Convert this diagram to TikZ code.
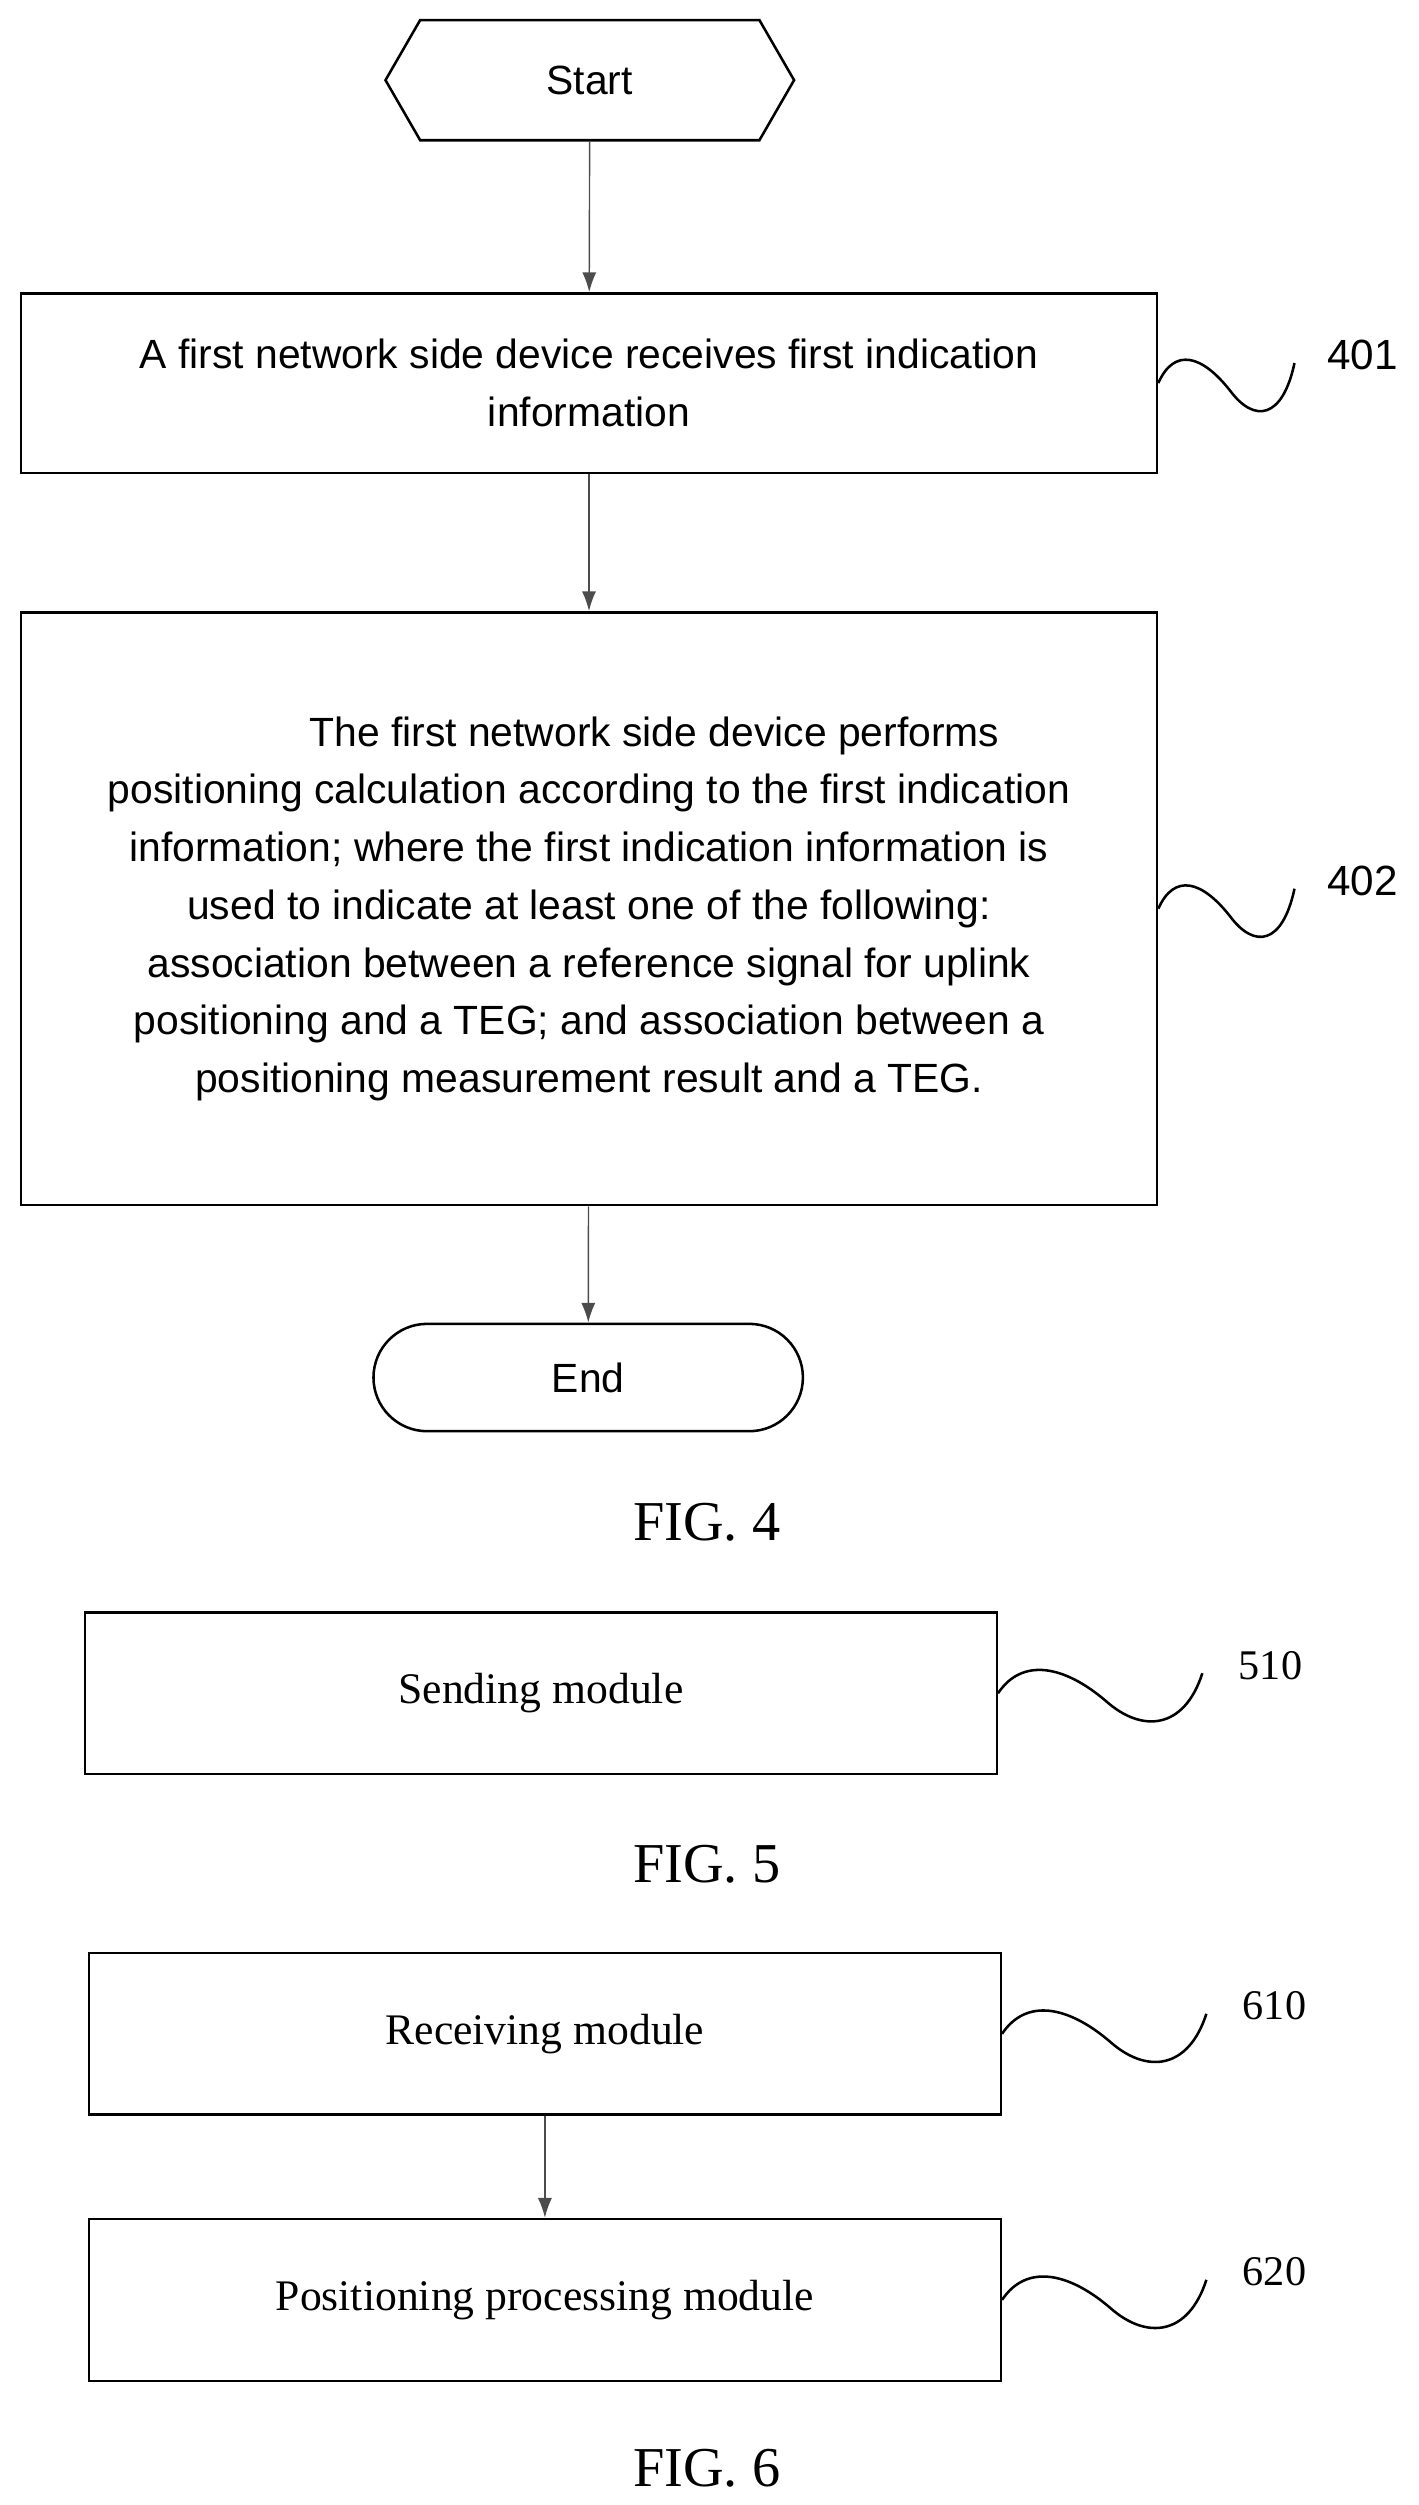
\documentclass[tikz,border=0pt]{standalone}
\usepackage{fontspec}
\setmainfont{Liberation Serif}
\setsansfont{Liberation Sans}
\usetikzlibrary{positioning,arrows.meta,calc,shapes.symbols}
\tikzset{
    flowbox/.style = {
        draw,
        shape=rectangle,
        line width=0.9pt,
        font=\sffamily\fontsize{14.5}{20.5}\selectfont,
        align=center
    },
    module/.style = {
        draw,
        shape=rectangle,
        line width=0.9pt,
        minimum width=11.38cm,
        minimum height=2.02cm,
        font=\fontsize{15.5}{19}\selectfont
    },
    figlabel/.style = {
        font=\fontsize{20}{24}\selectfont
    },
    refnum/.style = {
        font=\sffamily\fontsize{15}{18}\selectfont
    },
    flow/.style = {
        draw,
        line width=0.5pt,
        color=black!70,
        -{Latex[length=7pt,width=5pt]}
    },
}
% wavy reference line from a box edge to its number
\newcommand{\refwave}[4]{%
    \coordinate (w#2) at (#1.east);
    \draw[line width=0.9pt] (w#2)
        .. controls ($(w#2)+({0.2*#3 cm},0.45cm)$) and ($(w#2)+({0.55*#3 cm},0.35cm)$)
        .. ($(w#2)+({0.9*#3 cm},-0.1cm)$)
        .. controls ($(w#2)+({1.2*#3 cm},-0.5cm)$) and ($(w#2)+({1.55*#3 cm},-0.45cm)$)
        .. ($(w#2)+({1.7*#3 cm},0.25cm)$);
    \node[#4] at ($(w#2)+({1.7*#3 cm+0.85cm},0.35cm)$) {#2};
}

\begin{document}
\begin{tikzpicture}[x=0.02cm,y=-0.02cm]
    \useasboundingbox (0,0) rectangle (885,1563);

    % FIG. 4
    \node[flowbox, shape=signal, signal to=east and west, signal pointer angle=120,
        minimum width=5.1cm, minimum height=1.5cm, inner sep=0pt] (start) at (368,50) {Start};
    \node[flowbox, minimum width=14.18cm, minimum height=2.24cm] (s401) at (367.5,239)
        {A first network side device receives first indication\\information};
    \node[flowbox, minimum width=14.18cm, minimum height=7.4cm] (s402) at (367.5,567)
        {\hspace*{3.2em}The first network side device performs\\
         positioning calculation according to the first indication\\
         information; where the first indication information is\\
         used to indicate at least one of the following:\\
         association between a reference signal for uplink\\
         positioning and a TEG; and association between a\\
         positioning measurement result and a TEG.};
    \node[flowbox, minimum width=5.36cm, minimum height=1.34cm,
        rounded corners=0.67cm] (end) at (367,859.5) {End};
    \node[figlabel] (fig4) at (441,950) {FIG. 4};

    \path[flow] (start) -- (s401);
    \path[flow] (s401) -- (s402);
    \path[flow] (s402) -- (end);

    \refwave{s401}{401}{1}{refnum}
    \refwave{s402}{402}{1}{refnum}

    % FIG. 5
    \node[module] (send) at (337.5,1056.5) {Sending module};
    \node[figlabel] (fig5) at (441,1163) {FIG. 5};
    \refwave{send}{510}{1.5}{figlabel, font=\fontsize{15}{18}\selectfont}

    % FIG. 6
    \node[module] (recv) at (340,1269) {Receiving module};
    \node[module] (proc) at (340,1435) {Positioning processing module};
    \node[figlabel] (fig6) at (441,1540) {FIG. 6};
    \path[flow] (recv) -- (proc);
    \refwave{recv}{610}{1.5}{figlabel, font=\fontsize{15}{18}\selectfont}
    \refwave{proc}{620}{1.5}{figlabel, font=\fontsize{15}{18}\selectfont}
\end{tikzpicture}
\end{document}
